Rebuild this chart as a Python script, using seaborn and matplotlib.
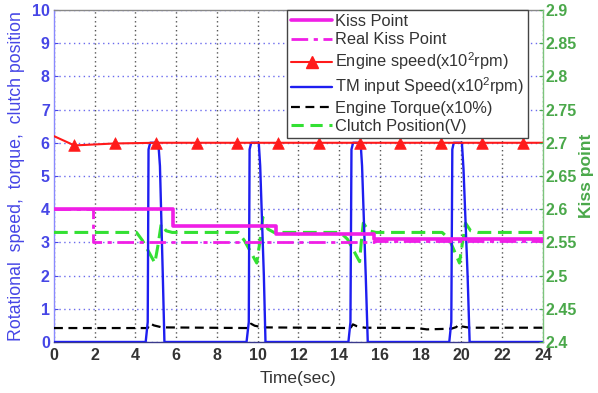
import matplotlib
matplotlib.use("Agg")
import matplotlib.pyplot as plt
from matplotlib.lines import Line2D
import seaborn as sns

# ---------------- data ----------------
kp_time = [0, 5.85, 5.85, 10.9, 10.9, 15.7, 15.7, 24]
kiss_point = [2.6, 2.6, 2.575, 2.575, 2.5625, 2.5625, 2.555, 2.555]

real_time = [0, 1.9, 1.9, 15.7, 15.7, 24]
real_kiss = [2.6, 2.6, 2.55, 2.55, 2.5525, 2.5525]

engine_time = [0, 1, 3, 5, 7, 9, 11, 13, 15, 17, 19, 21, 23, 24]
engine_speed = [6.2, 5.92, 5.98, 6.0, 6.0, 6.0, 6.0, 6.0, 6.0, 6.0, 6.0, 6.0, 6.0, 6.0]
marker_time = [1, 3, 5, 7, 9, 11, 13, 15, 17, 19, 21, 23]
marker_speed = [5.92, 5.98, 6.0, 6.0, 6.0, 6.0, 6.0, 6.0, 6.0, 6.0, 6.0, 6.0]

tm_time = [0,
           4.5, 4.6, 4.64, 4.72, 5.12, 5.2, 5.34, 5.42,
           9.45, 9.56, 9.6, 9.68, 10.05, 10.12, 10.3, 10.38,
           14.45, 14.55, 14.6, 14.68, 15.05, 15.12, 15.3, 15.4,
           19.4, 19.5, 19.55, 19.62, 20.02, 20.1, 20.3, 20.4,
           24]
tm_speed = [0,
            0, 0.6, 5.8, 6.0, 6.0, 5.3, 2.0, 0,
            0, 0.6, 5.8, 6.0, 6.0, 5.3, 2.0, 0,
            0, 0.6, 5.8, 6.0, 6.0, 5.3, 2.0, 0,
            0, 0.6, 5.8, 6.0, 6.0, 5.2, 2.0, 0,
            0]

torque_time = [0, 4.6, 4.72, 4.9, 5.3, 9.55, 9.67, 9.85, 10.25,
               14.55, 14.67, 14.85, 15.25, 17.8, 18.3, 18.9, 19.5,
               19.75, 19.85, 20.0, 20.4, 24]
engine_torque = [0.42, 0.42, 0.56, 0.5, 0.44, 0.42, 0.55, 0.49, 0.44,
                 0.42, 0.53, 0.48, 0.43, 0.42, 0.38, 0.39, 0.4,
                 0.45, 0.53, 0.47, 0.43, 0.43]

clutch_time = [0, 4.05, 4.35, 4.95, 5.1, 5.26, 5.5, 5.8,
               9.05, 9.35, 9.95, 10.1, 10.25, 10.5, 10.8,
               14.05, 14.4, 15.0, 15.08, 15.18, 15.45, 15.8,
               19.05, 19.4, 19.9, 20.05, 20.2, 20.45, 20.8, 24]
clutch_pos = [3.3, 3.3, 3.05, 2.38, 2.9, 3.55, 3.35, 3.3,
              3.3, 3.05, 2.38, 3.0, 3.75, 3.4, 3.3,
              3.3, 3.1, 2.42, 3.0, 3.58, 3.35, 3.3,
              3.3, 3.1, 2.38, 3.0, 3.58, 3.35, 3.3, 3.3]

x_ticks = [0, 2, 4, 6, 8, 10, 12, 14, 16, 18, 20, 22, 24]
left_ticks = [0, 1, 2, 3, 4, 5, 6, 7, 8, 9, 10]
right_ticks = [2.4, 2.45, 2.5, 2.55, 2.6, 2.65, 2.7, 2.75, 2.8, 2.85, 2.9]
right_labels = ["2.4", "2.45", "2.5", "2.55", "2.6", "2.65", "2.7", "2.75", "2.8", "2.85", "2.9"]

labels = ["Kiss Point", "Real Kiss Point", "Engine speed(x10$^{2}$rpm)",
          "TM input Speed(x10$^{2}$rpm)", "Engine Torque(x10%)", "Clutch Position(V)"]

# ---------------- style ----------------
sns.set_style("white")
plt.rcParams["font.family"] = ["Liberation Sans", "DejaVu Sans"]
plt.rcParams["mathtext.fontset"] = "custom"
plt.rcParams["mathtext.rm"] = "Liberation Sans"

MAG = "#f01ee6"
RED = "#ff1a1a"
BLUE = "#1e1ef0"
GREEN = "#33e033"
LBLUE = "#4646e6"
DGREEN = "#4aa84a"

fig = plt.figure(figsize=(5.98, 3.93), dpi=100)
ax = fig.add_axes([0.0903, 0.1298, 0.8177, 0.8448])
ax2 = ax.twinx()

# left-axis series
sns.lineplot(x=clutch_time, y=clutch_pos, ax=ax, estimator=None, sort=False,
             color=GREEN, lw=2.2, linestyle=(0, (4.5, 2.2)), zorder=3)
sns.lineplot(x=torque_time, y=engine_torque, ax=ax, estimator=None, sort=False,
             color="black", lw=1.6, linestyle=(0, (4, 2.5)), zorder=3)
sns.lineplot(x=tm_time, y=tm_speed, ax=ax, estimator=None, sort=False,
             color=BLUE, lw=1.7, zorder=4)
sns.lineplot(x=engine_time, y=engine_speed, ax=ax, estimator=None, sort=False,
             color=RED, lw=1.5, zorder=5)
sns.scatterplot(x=marker_time, y=marker_speed, ax=ax, marker="^", s=70,
                color=RED, edgecolor=RED, linewidth=0.5, zorder=6)

# right-axis series (kiss point scale)
sns.lineplot(x=real_time, y=real_kiss, ax=ax2, estimator=None, sort=False,
             color=MAG, lw=2.0, linestyle=(0, (6, 2, 1.5, 2)), zorder=3)
sns.lineplot(x=kp_time, y=kiss_point, ax=ax2, estimator=None, sort=False,
             color=MAG, lw=2.6, zorder=3)

# axes limits / ticks
ax.set_xlim(0, 24)
ax.set_ylim(0, 10)
ax2.set_ylim(2.4, 2.9)
ax.set_xticks(x_ticks)
ax.set_yticks(left_ticks)
ax2.set_yticks(right_ticks)
ax2.set_yticklabels(right_labels)

# grid
ax.set_axisbelow(True)
ax.yaxis.grid(True, color="#6a6aee", linestyle=(0, (1, 2.5)), lw=1.0)
ax.xaxis.grid(True, color="#555555", linestyle=(0, (1, 2.2)), lw=1.0)

# tick styling
ax.tick_params(axis="y", direction="in", length=3, colors=LBLUE, labelsize=11.5, pad=3)
ax.tick_params(axis="x", direction="in", length=3, colors="#333333", labelsize=11.5, pad=4)
ax2.tick_params(axis="y", direction="in", length=3, colors=DGREEN, labelsize=11.5, pad=2)
for t in ax.get_xticklabels() + ax.get_yticklabels() + ax2.get_yticklabels():
    t.set_fontweight("bold")

# spines
ax.spines["left"].set_color("#8a8aff")
ax.spines["bottom"].set_color("#3a3a8a")
ax.spines["top"].set_color("#888888")
ax.spines["right"].set_visible(False)
ax2.spines["right"].set_color("#7cc47c")
ax2.spines["left"].set_visible(False)
ax2.spines["top"].set_visible(False)
ax2.spines["bottom"].set_visible(False)
for a in (ax, ax2):
    for sp in a.spines.values():
        sp.set_linewidth(1.0)

# labels
ax.set_ylabel("Rotational  speed,  torque,  clutch position", color=LBLUE,
              fontsize=12.8, labelpad=5)
ax.set_xlabel("Time(sec)", color="#333333", fontsize=12.5, labelpad=6)
ax2.set_ylabel("Kiss point", color=DGREEN, fontsize=12.5, fontweight="bold", labelpad=1)

# legend
handles = [
    Line2D([], [], color=MAG, lw=2.6),
    Line2D([], [], color=MAG, lw=2.0, linestyle=(0, (6, 2, 1.5, 2))),
    Line2D([], [], color=RED, lw=1.5, marker="^", markersize=8),
    Line2D([], [], color=BLUE, lw=1.7),
    Line2D([], [], color="black", lw=1.6, linestyle=(0, (4, 2.5))),
    Line2D([], [], color=GREEN, lw=2.2, linestyle=(0, (4, 2.2))),
]
leg = ax2.legend(handles, labels, loc="upper right", bbox_to_anchor=(0.969, 1.0),
                 borderaxespad=0, fontsize=11.8, frameon=True, fancybox=False,
                 edgecolor="#444444", framealpha=1, handlelength=2.5,
                 handletextpad=0.15, labelspacing=0.2, borderpad=0.25)
leg.get_frame().set_linewidth(1.0)
for txt in leg.get_texts():
    txt.set_color("#333333")

fig.savefig("out.png", dpi=100)
